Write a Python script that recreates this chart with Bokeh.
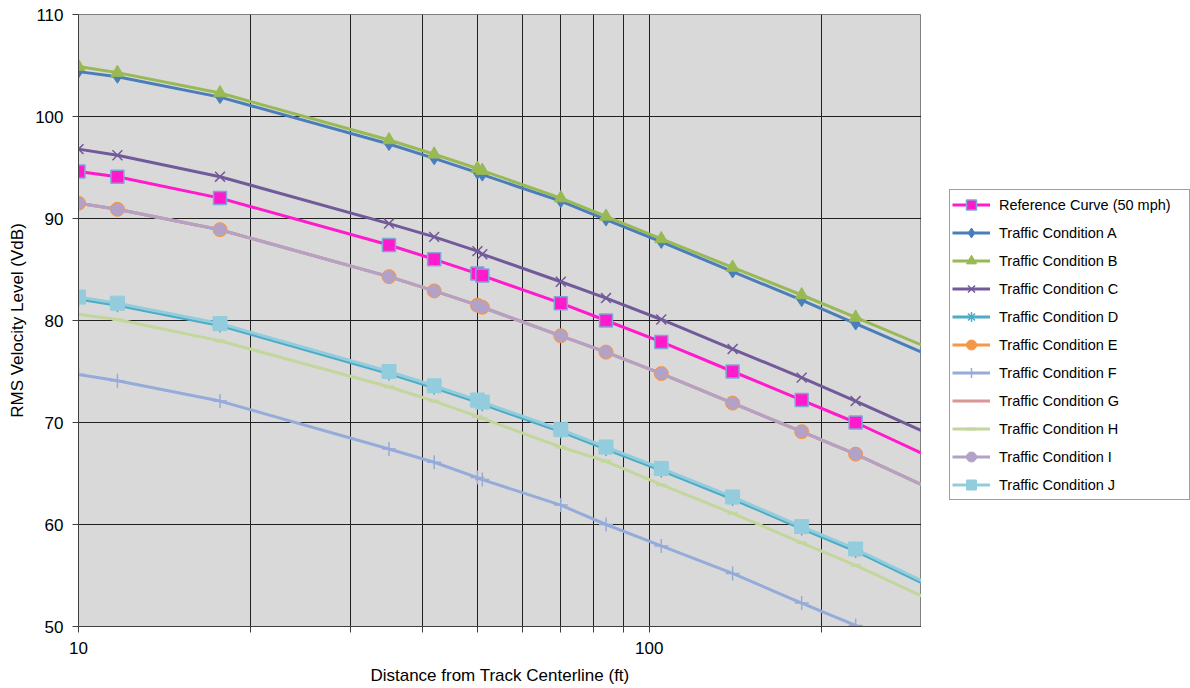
from bokeh.plotting import figure
from bokeh.layouts import row
from bokeh.models import (Legend, LegendItem, FixedTicker, Range1d)
from bokeh.embed import file_html
from bokeh.resources import INLINE

# ---- data ----
distances = [10, 11.7, 17.7, 35, 42, 50, 51, 70, 84, 105, 140, 185, 230]
line_end_distance = 300

reference_curve = [94.6, 94.1, 92.0, 87.4, 86.0, 84.6, 84.4, 81.7, 80.0, 77.9, 75.0, 72.2, 70.0]
reference_end = 67.0
cond_a = [104.4, 103.9, 101.9, 97.3, 95.9, 94.5, 94.3, 91.7, 89.9, 87.7, 84.8, 82.0, 79.7]
cond_a_end = 76.9
cond_b = [104.9, 104.3, 102.3, 97.7, 96.3, 94.9, 94.7, 92.0, 90.2, 88.0, 85.2, 82.5, 80.3]
cond_b_end = 77.6
cond_c = [96.8, 96.2, 94.1, 89.5, 88.2, 86.8, 86.5, 83.8, 82.2, 80.1, 77.2, 74.4, 72.1]
cond_c_end = 69.2
cond_d = [82.1, 81.5, 79.5, 74.8, 73.4, 72.0, 71.8, 69.1, 67.4, 65.3, 62.5, 59.6, 57.4]
cond_d_end = 54.3
cond_e = [91.5, 90.9, 88.9, 84.3, 82.9, 81.5, 81.3, 78.5, 76.9, 74.8, 71.9, 69.1, 66.9]
cond_e_end = 63.9
cond_f = [74.7, 74.1, 72.1, 67.4, 66.1, 64.6, 64.4, 61.9, 60.0, 57.9, 55.2, 52.3, 50.1]
cond_f_end = 47.3
cond_g = [91.5, 90.9, 88.9, 84.3, 82.9, 81.5, 81.3, 78.5, 76.9, 74.8, 71.9, 69.1, 66.9]
cond_g_end = 63.9
cond_h = [80.6, 80.1, 78.0, 73.5, 72.1, 70.6, 70.4, 67.6, 66.2, 63.9, 61.1, 58.2, 56.0]
cond_h_end = 53.0
cond_i = [91.5, 90.9, 88.9, 84.3, 82.9, 81.5, 81.3, 78.5, 76.9, 74.8, 71.9, 69.1, 66.9]
cond_i_end = 63.9
cond_j = [82.3, 81.7, 79.7, 75.0, 73.6, 72.2, 72.0, 69.3, 67.6, 65.5, 62.7, 59.8, 57.6]
cond_j_end = 54.5

series_labels = ["Reference Curve (50 mph)", "Traffic Condition A", "Traffic Condition B",
                 "Traffic Condition C", "Traffic Condition D", "Traffic Condition E",
                 "Traffic Condition F", "Traffic Condition G", "Traffic Condition H",
                 "Traffic Condition I", "Traffic Condition J"]
y_ticks = [50, 60, 70, 80, 90, 100, 110]
x_major_ticks = [10, 100]
x_minor_ticks = [20, 30, 40, 50, 60, 70, 80, 90, 200, 300]

FONT = "Liberation Sans"

p = figure(width=921, height=688, x_axis_type="log",
           x_range=Range1d(10, 300), y_range=Range1d(50, 110),
           output_backend="svg", toolbar_location=None,
           min_border_left=78, min_border_right=0,
           min_border_top=14, min_border_bottom=62)

p.background_fill_color = "#D9D9D9"
p.border_fill_color = "white"
p.outline_line_color = "#808080"

# axes
p.xaxis.ticker = FixedTicker(ticks=x_major_ticks, minor_ticks=x_minor_ticks)
p.xaxis.major_label_overrides = {10: "10", 100: "100"}
p.yaxis.ticker = FixedTicker(ticks=y_ticks)
for ax in (p.xaxis[0], p.yaxis[0]):
    ax.axis_line_color = "#404040"
    ax.major_tick_line_color = "#404040"
    ax.major_tick_out = 6
    ax.major_tick_in = 0
    ax.minor_tick_line_color = "#404040"
    ax.minor_tick_out = 6
    ax.minor_tick_in = 0
    ax.major_label_text_font = FONT
    ax.major_label_text_font_size = "17px"
    ax.major_label_text_color = "black"
    ax.axis_label_text_font = FONT
    ax.axis_label_text_font_size = "17px"
    ax.axis_label_text_font_style = "normal"
    ax.axis_label_text_color = "black"
p.xaxis.axis_label = "Distance from Track Centerline (ft)"
p.yaxis.axis_label = "RMS Velocity Level (VdB)"
p.xaxis.major_label_standoff = 9
p.xaxis.axis_label_standoff = 9
p.yaxis.major_label_standoff = 9
p.yaxis.axis_label_standoff = 5

# grids
p.xgrid.grid_line_color = "#202020"
p.xgrid.minor_grid_line_color = "#202020"
p.xgrid.grid_line_width = 1
p.ygrid.grid_line_color = "#202020"
p.ygrid.grid_line_width = 1

# separate panel holding the legend (outside the plot area); the series are
# drawn there too but fall outside its view, so only their legend glyphs show
pl = figure(width=269, height=688, x_range=Range1d(0, 1), y_range=Range1d(0, 1),
            output_backend="svg", toolbar_location=None,
            x_axis_location=None, y_axis_location=None,
            min_border_left=0, min_border_right=0,
            min_border_top=0, min_border_bottom=0)
pl.grid.visible = False
pl.outline_line_color = None
pl.background_fill_color = "white"
pl.border_fill_color = "white"

items = []


def add_series(label, vals, end_val, color, marker=None, msize=12,
               fill=None, mline=None, mline_width=1.0, lw=3):
    xs = distances + [line_end_distance]
    ys = vals + [end_val]
    p.line(xs, ys, line_color=color, line_width=lw)
    legend_renderers = [pl.line(xs, ys, line_color=color, line_width=lw)]
    if marker is not None:
        kw = dict(marker=marker, size=msize,
                  fill_color=fill if fill else color,
                  line_color=mline if mline else color,
                  line_width=mline_width)
        p.scatter(distances, vals, **kw)
        legend_renderers.append(pl.scatter(distances, vals, **kw))
    items.append(LegendItem(label=label, renderers=legend_renderers))


add_series(series_labels[0], reference_curve, reference_end, "#FF1ACB",
           "square", 13, fill="#FF1ACB", mline="#7EA6D6", mline_width=1.5)
add_series(series_labels[1], cond_a, cond_a_end, "#4A7EBB", "diamond", 13)
add_series(series_labels[2], cond_b, cond_b_end, "#98B954", "triangle", 13)
add_series(series_labels[3], cond_c, cond_c_end, "#725A9A", "x", 14,
           mline_width=1.5)
add_series(series_labels[4], cond_d, cond_d_end, "#4BACC6", "asterisk", 14,
           mline_width=1.5)
add_series(series_labels[5], cond_e, cond_e_end, "#F79646", "circle", 14)
add_series(series_labels[6], cond_f, cond_f_end, "#95ABDA", "cross", 14,
           mline_width=1.5)
add_series(series_labels[7], cond_g, cond_g_end, "#D99694")
add_series(series_labels[8], cond_h, cond_h_end, "#C3D69B", "dash", 10,
           mline_width=3)
add_series(series_labels[9], cond_i, cond_i_end, "#B3A2C7", "circle", 12)
add_series(series_labels[10], cond_j, cond_j_end, "#93CDDD", "square", 14)

legend = Legend(items=items, location=(28, 126))
legend.label_text_font = FONT
legend.label_text_font_size = "14.5px"
legend.label_text_color = "black"
legend.glyph_width = 38
legend.glyph_height = 25
legend.spacing = 3
legend.padding = 2
legend.margin = 0
legend.label_standoff = 9
legend.label_width = 188
legend.border_line_color = "#404040"
legend.border_line_width = 1
legend.background_fill_color = "white"
legend.background_fill_alpha = 1.0
pl.add_layout(legend, "center")

layout = row(p, pl)
open("out.html", "w").write(file_html(layout, INLINE))
